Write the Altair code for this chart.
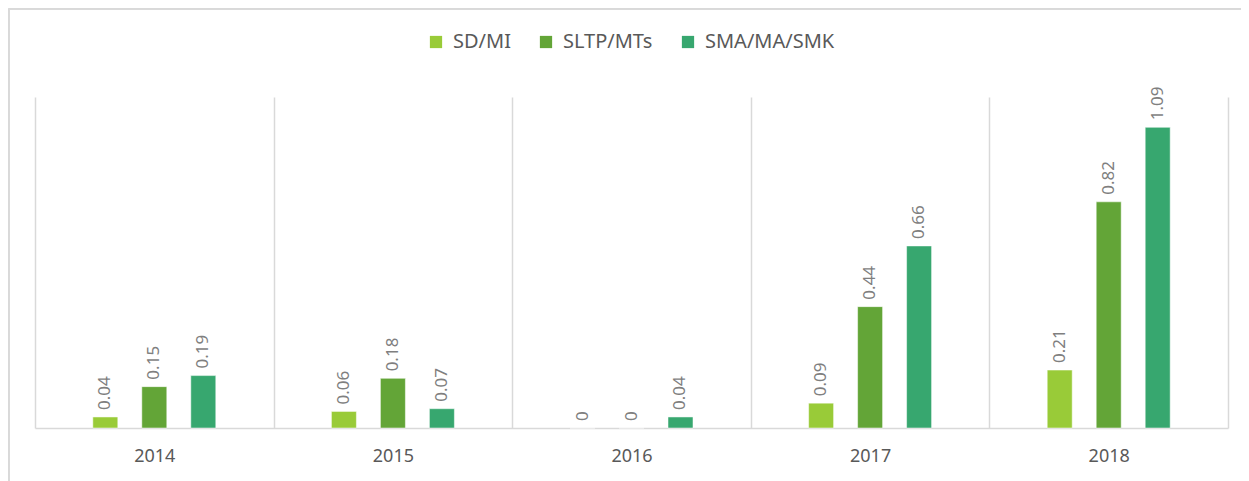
import altair as alt
import pandas as pd

years = ["2014", "2015", "2016", "2017", "2018"]
series = ["SD/MI", "SLTP/MTs", "SMA/MA/SMK"]
sd_mi = [0.04, 0.06, 0, 0.09, 0.21]
sltp_mts = [0.15, 0.18, 0, 0.44, 0.82]
sma_ma_smk = [0.19, 0.07, 0.04, 0.66, 1.09]
colors = ["#99CB38", "#63A537", "#37A76F"]

rows = []
for i, y in enumerate(years):
    for s, vals in zip(series, [sd_mi, sltp_mts, sma_ma_smk]):
        rows.append({"year": y, "series": s, "value": vals[i]})
df = pd.DataFrame(rows)

font = "Noto Sans"

x = alt.X("year:N", sort=years, title=None,
          scale=alt.Scale(paddingInner=0, paddingOuter=0),
          axis=alt.Axis(labelAngle=0, labelFontSize=18, labelColor="#595959",
                        labelFont=font, tickSize=0, labelPadding=19,
                        domainColor="#D9D9D9", domainWidth=1.5,
                        grid=True, gridColor="#D9D9D9", gridWidth=1.5,
                        tickBand="extent"))
offset_domain = [" "] + series + ["  "]
xo = alt.XOffset("series:N",
                 scale=alt.Scale(domain=offset_domain, paddingInner=0.49, paddingOuter=0.18))
y = alt.Y("value:Q", title=None, scale=alt.Scale(domain=[0, 1.2], nice=False),
          axis=None)

bars = alt.Chart(df).mark_bar(stroke="white", strokeWidth=0.5).encode(
    x=x, xOffset=xo, y=y,
    color=alt.Color("series:N", sort=series,
                    scale=alt.Scale(domain=series, range=colors),
                    legend=alt.Legend(title=None, orient="none", direction="horizontal",
                                      legendX=391, legendY=-65,
                                      symbolType="square", symbolSize=150,
                                      symbolStrokeWidth=0, labelFontSize=20,
                                      labelFont=font, labelColor="#595959",
                                      columnPadding=25, labelOffset=7)),
)

labels = alt.Chart(df).mark_text(angle=270, align="left", baseline="middle",
                                 dx=7, fontSize=17, font=font, color="#7F7F7F").encode(
    x=x, xOffset=xo, y=y,
    text=alt.Text("value:Q"),
)

frame_left = alt.Chart(df).mark_rule(color="#D9D9D9", strokeWidth=1.5).encode(
    x=alt.value(-26.25), y=alt.value(-88.25), y2=alt.value(331 + 53))
frame_top = alt.Chart(df).mark_rule(color="#D9D9D9", strokeWidth=1.5).encode(
    x=alt.value(-26.25), x2=alt.value(1193 + 13), y=alt.value(-88.25))

chart = (frame_left + frame_top + bars + labels).properties(
    width=1193, height=331,
    autosize=alt.AutoSizeParams(type="none"),
    padding={"left": 27, "top": 89, "right": 13, "bottom": 53},
).configure_view(stroke=None)

chart.save("out.html", embed_options={"renderer": "svg", "actions": False})
